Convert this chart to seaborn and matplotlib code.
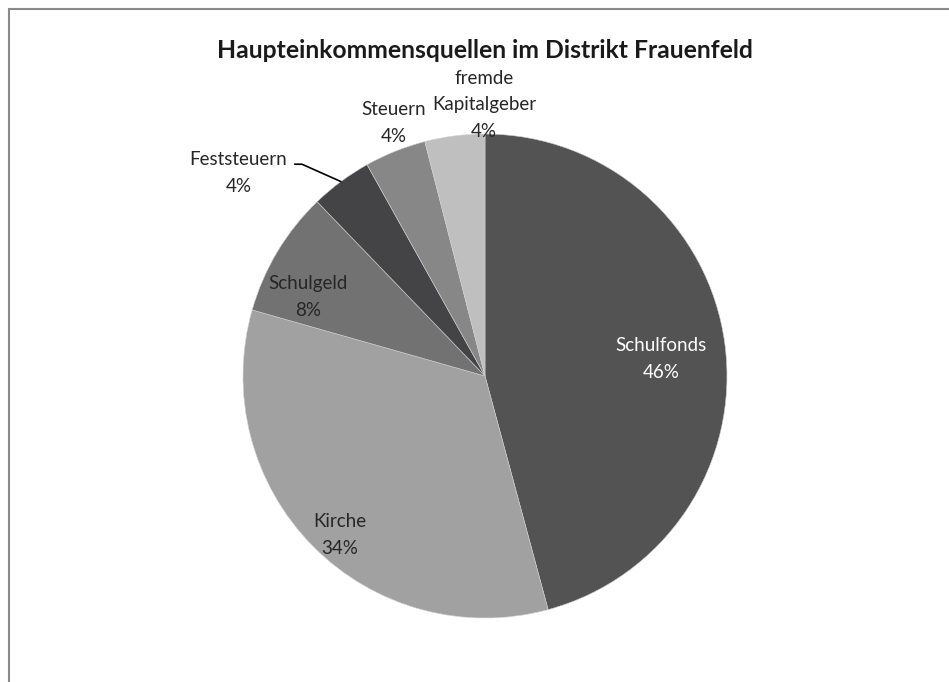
import numpy as np
import matplotlib
matplotlib.use("Agg")
import matplotlib.pyplot as plt
import seaborn as sns
from matplotlib.patches import Rectangle

# data
sources = ["Schulfonds", "Kirche", "Schulgeld", "Feststeuern", "Steuern", "fremde\nKapitalgeber"]
shares = [45.8, 33.6, 8.4, 4.1, 4.1, 4.0]
colors = ["#535353", "#a1a1a1", "#727272", "#444446", "#878787", "#bfbfbf"]

sns.set_theme(style="white")
plt.rcParams["font.family"] = ["Lato", "DejaVu Sans"]

W, H = 949, 682
fig = plt.figure(figsize=(W / 100, H / 100), dpi=100)
ax = fig.add_axes([0, 0, 1, 1])

cx, cy, r = 485, H - 376, 242
wedges, _ = ax.pie(shares, colors=colors, startangle=90, counterclock=False,
                   center=(cx, cy), radius=r,
                   wedgeprops=dict(edgecolor="#d0d0d0", linewidth=0.4))
ax.set_xlim(0, W)
ax.set_ylim(0, H)
ax.set_aspect("equal")
ax.axis("off")

# label placement (distance in radii, relative to slice middle angle)
label_dist = [0.73, 0.89, 0.80, 1.32, 1.11, 1.12]
label_turn = [-2, 3, 7, 14, -2, -7]
text_col = ["white", "#262626", "#262626", "#262626", "#262626", "#262626"]

total = sum(shares)
for i, (w, name, val) in enumerate(zip(wedges, sources, shares)):
    mid = np.deg2rad((w.theta1 + w.theta2) / 2 + label_turn[i])
    tx = cx + label_dist[i] * r * np.cos(mid)
    ty = cy + label_dist[i] * r * np.sin(mid)
    txt = f"{name}\n{round(val / total * 100):.0f}%"
    if name == "Feststeuern":
        emid = np.deg2rad((w.theta1 + w.theta2) / 2)
        ex, ey = cx + r * np.cos(emid), cy + r * np.sin(emid)
        ax.annotate(txt, xy=(ex, ey), xytext=(tx, ty), ha="center", va="center",
                    fontsize=13.5, color=text_col[i], linespacing=1.7,
                    arrowprops=dict(arrowstyle="-", color="black", lw=1.2,
                                    relpos=(1.0, 0.7), shrinkA=3, shrinkB=0,
                                    connectionstyle="angle,angleA=0,angleB=-24,rad=0"))
    else:
        ax.text(tx, ty, txt, ha="center", va="center", fontsize=13.5,
                color=text_col[i], linespacing=1.7)

fig.text(485 / W, 1 - 51 / H, "Haupteinkommensquellen im Distrikt Frauenfeld",
         ha="center", va="center", fontsize=17.8, fontweight="bold", color="#1a1a1a")

# chart frame (only top/left visible in the crop)
fig.patches.append(Rectangle((8.5 / W, -0.1), 1.2, 1 - 9 / H + 0.1,
                             transform=fig.transFigure, fill=False,
                             edgecolor="#8a8a8a", linewidth=1.5))

fig.savefig("out.png", dpi=100)
